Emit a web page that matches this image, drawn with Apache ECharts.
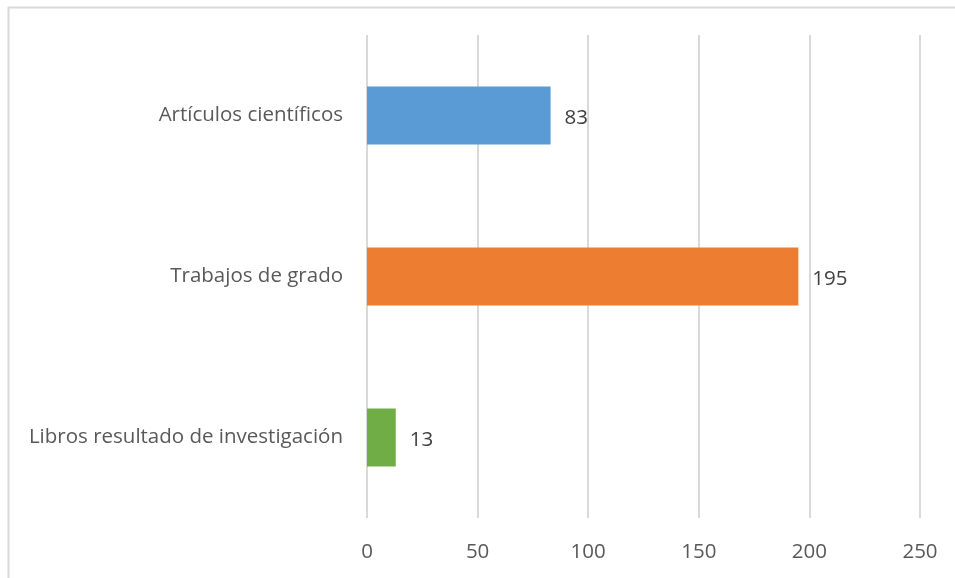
<!DOCTYPE html>
<html>
<head>
<meta charset="utf-8">
<script src="https://cdn.jsdelivr.net/npm/echarts@6/dist/echarts.min.js"></script>
<style>
html,body{margin:0;padding:0;background:#fff;}
#chart{width:955px;height:578px;}
</style>
</head>
<body>
<div id="chart"></div>
<script>
const categories = ["Artículos científicos", "Trabajos de grado", "Libros resultado de investigación"];
const values = [83, 195, 13];
const barColors = ["#5B9BD5", "#ED7D31", "#70AD47"];
const xTicks = [0, 50, 100, 150, 200, 250];

const FONT = "Open Sans";
const chart = echarts.init(document.getElementById('chart'), null, {renderer: 'canvas'});
chart.setOption({
  backgroundColor: '#ffffff',
  animation: false,
  graphic: [{
    type: 'rect', left: 6, top: 5, silent: true, z: -10,
    shape: {width: 970, height: 600},
    style: {fill: 'none', stroke: '#d9d9d9', lineWidth: 2}
  }],
  grid: {left: 367, right: 35, top: 35, bottom: 60, containLabel: false},
  xAxis: {
    type: 'value', min: xTicks[0], max: xTicks[xTicks.length - 1], interval: 50,
    axisLine: {show: false}, axisTick: {show: false},
    splitLine: {show: true, lineStyle: {color: '#d9d9d9', width: 2}},
    axisLabel: {color: '#595959', fontFamily: FONT, fontSize: 20.5, margin: 24}
  },
  yAxis: {
    type: 'category', data: categories, inverse: true,
    axisLine: {show: false}, axisTick: {show: false},
    axisLabel: {color: '#595959', fontFamily: FONT, fontSize: 20.5, margin: 24, padding: [5, 0, 0, 0]}
  },
  series: [{
    type: 'bar', barWidth: '36%',
    data: values.map((v, i) => ({value: v, itemStyle: {color: barColors[i]}})),
    label: {show: true, position: 'right', distance: 14, offset: [0, 3], color: '#404040', fontFamily: FONT, fontSize: 20.5}
  }]
});
</script>
</body>
</html>
